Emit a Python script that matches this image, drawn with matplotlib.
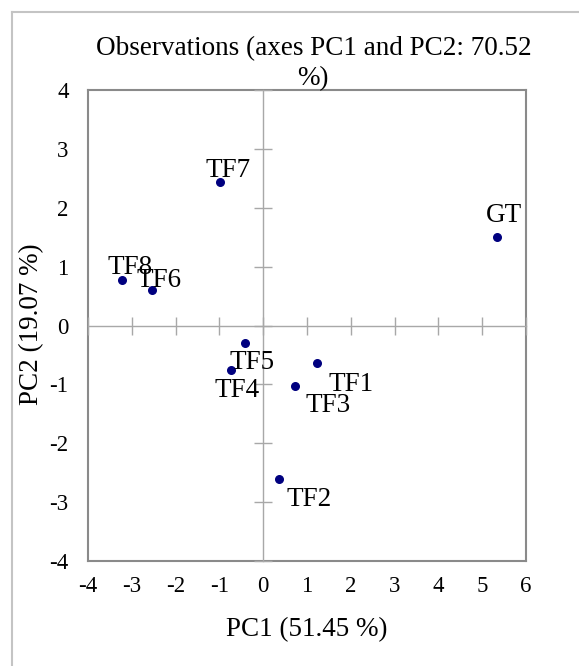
import matplotlib

matplotlib.use("Agg")

import matplotlib.pyplot as plt  # noqa: E402
from matplotlib.lines import Line2D  # noqa: E402

plt.rcParams["font.family"] = ["Liberation Serif", "DejaVu Serif"]
plt.rcParams["axes.unicode_minus"] = False

# dane z wykresu
names = ["TF1", "TF2", "TF3", "TF4", "TF5", "TF6", "TF7", "TF8", "GT"]
pc1 = [1.23, 0.36, 0.73, -0.74, -0.42, -2.55, -0.99, -3.22, 5.33]
pc2 = [-0.64, -2.61, -1.02, -0.76, -0.29, 0.60, 2.44, 0.78, 1.51]
x_ticks = [-4, -3, -2, -1, 0, 1, 2, 3, 4, 5, 6]
y_ticks = [-4, -3, -2, -1, 0, 1, 2, 3, 4]

# przesunięcia etykiet (px) i wyrównanie
_offsets = {
    "TF1": (11, -9, "left", "top"),
    "TF2": (8, -8, "left", "top"),
    "TF3": (10, -7, "left", "top"),
    "TF4": (6, -8, "center", "top"),
    "TF5": (7, -7, "center", "top"),
    "TF6": (8, 3, "center", "baseline"),
    "TF7": (8, 5, "center", "baseline"),
    "TF8": (8, 6, "center", "baseline"),
    "GT": (7, 15, "center", "baseline"),
}

_NAVY = "#00007f"
_FRAME = "#8a8a8a"
_ZERO = "#a8a8a8"

W, H = 579, 666
fig = plt.figure(figsize=(W / 100, H / 100), dpi=100)
pos = [88 / W, 1 - 561 / H, (526 - 88) / W, (561 - 90) / H]

ax = fig.add_axes(pos)
ax.set_xlim(-4, 6)
ax.set_ylim(-4, 4)
ax.set_xticks(x_ticks)
ax.set_yticks(y_ticks)
ax.tick_params(length=0, labelsize=16.5, colors="black")
ax.tick_params(axis="x", pad=11)
ax.tick_params(axis="y", pad=14)
for sp in ax.spines.values():
    sp.set_color(_FRAME)
    sp.set_linewidth(1.5)

# osie przez zero z krzyżowymi znacznikami
ax0 = fig.add_axes(pos, sharex=ax, sharey=ax)
ax0.patch.set_visible(False)
ax0.spines["top"].set_visible(False)
ax0.spines["right"].set_visible(False)
ax0.spines["left"].set_position(("data", 0))
ax0.spines["bottom"].set_position(("data", 0))
for k in ("left", "bottom"):
    ax0.spines[k].set_color(_ZERO)
    ax0.spines[k].set_linewidth(1.0)
ax0.tick_params(direction="inout", length=13, width=1.0, color=_ZERO,
                labelleft=False, labelbottom=False)

ax0.scatter(pc1, pc2, s=30, color=_NAVY, zorder=3)
for n, x, y in zip(names, pc1, pc2):
    dx, dy, ha, va = _offsets[n]
    ax0.annotate(n, (x, y), xytext=(dx, dy), textcoords="offset pixels",
                 ha=ha, va=va, fontsize=19.5)

fig.text(32 / W, 1 - 324 / H, "PC2 (19.07 %)", rotation=90,
         ha="center", va="center", fontsize=19.5)
fig.text(307 / W, 1 - 630 / H, "PC1 (51.45 %)",
         ha="center", va="center", fontsize=19.5)
fig.text(314 / W, 1 - 55 / H, "Observations (axes PC1 and PC2: 70.52",
         ha="center", va="baseline", fontsize=19.5)
fig.text(313 / W, 1 - 85 / H, "%)", ha="center", va="baseline", fontsize=19.5)

# ramka wokół wykresu
fig.add_artist(Line2D([12 / W, 1], [1 - 12 / H] * 2, color="#c4c4c4", lw=1.5))
fig.add_artist(Line2D([12 / W] * 2, [0, 1 - 12 / H], color="#c4c4c4", lw=1.5))

fig.savefig("out.png", dpi=100)
